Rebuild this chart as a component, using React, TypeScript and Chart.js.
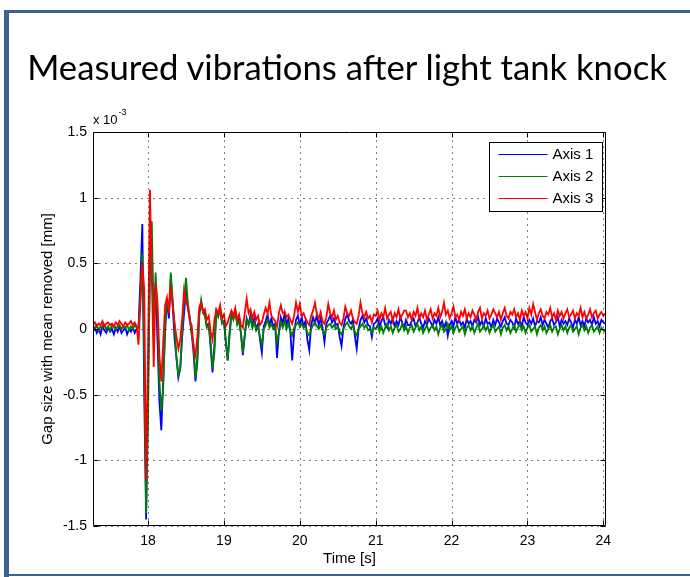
import React, { useEffect, useRef } from "react";
import { Chart, registerables } from "chart.js";

Chart.register(...registerables);

// ---- data ----
const TITLE = "Measured vibrations after light tank knock";
const T_START = 17.275; // s, time of first sample
const T_STEP = 0.025; // s, sampling interval

// Gap size with mean removed, in units of 1e-3 mm
const axis1 = [
  -0.02, 0.01, -0.03, 0.0, -0.04, 0.02, -0.01, -0.03, 0.01, -0.02, 0.0, -0.04, 0.01, -0.02, 0.02, -0.03, -0.01, 0.01, -0.04, 0.0, -0.02, 0.01, -0.03, 0.0,
  0.02, 0.38, 0.8, -0.5, -1.45, -0.4, 0.45, 0.6, 0.05, 0.35, -0.1, -0.55, -0.77, -0.4,
  -0.02, 0.22, 0.08, 0.38, 0.18, -0.08, -0.22, -0.37, -0.3,
  -0.06, 0.12, 0.3, 0.16, 0.09, -0.03, -0.18, -0.4, -0.22,
  0.12, 0.2, 0.14, 0.12, 0.02, 0.04, -0.14, -0.33, -0.12,
  0.14, 0.11, 0.16, 0.05, 0.06, -0.1, -0.24, -0.02,
  0.12, 0.08, 0.14, 0.05, 0.08, -0.04, -0.2, -0.05,
  0.08, 0.03, 0.11, 0.02, 0.08, 0.0, 0.04, -0.08, -0.18, 0.02,
  0.06, 0.11, 0.03, 0.08, 0.02, 0.04, -0.22, -0.02,
  0.09, 0.04, 0.12, 0.03, 0.08, -0.02, -0.24, -0.03,
  0.07, 0.1, 0.03, 0.09, 0.02, 0.06, -0.08, -0.16, 0.03,
  0.09, 0.04, 0.11, 0.03, 0.08, 0.01, -0.1, 0.04,
  0.07, 0.1, 0.05, 0.08, 0.03, 0.04, -0.06, -0.13, 0.01,
  0.08, 0.11, 0.06, 0.04, 0.07, -0.05, -0.15, 0.0,
  0.07, 0.1, 0.05, 0.08, 0.03, 0.02, -0.06, 0.04,
  0.05, 0.08, 0.02, 0.06, 0.09, 0.03, 0.01, 0.07, 0.04, 0.08,
  0.02, 0.06, 0.03, 0.09, 0.05, 0.01, 0.07, 0.03, 0.03, 0.06,
  0.08, 0.02, 0.05, 0.09, 0.04, 0.01, 0.06, 0.03, 0.08, 0.05,
  0.02, 0.07, 0.04, 0.09, 0.03, 0.06, 0.01, 0.05, -0.05, 0.03,
  0.06, 0.02, 0.09, 0.04, 0.07, 0.03, 0.05, 0.01, 0.08, 0.04,
  0.06, 0.02, 0.07, 0.05, 0.09, 0.03, 0.06, 0.02, 0.08, 0.04,
  0.05, 0.01, 0.07, 0.03, 0.08, 0.05, 0.02, 0.06, 0.09, 0.04,
  0.03, 0.07, 0.05, 0.01, 0.08, 0.04, 0.06, 0.02, 0.09, 0.05,
  0.03, 0.07, 0.04, 0.08, 0.02, 0.06, 0.05, 0.09, 0.03, 0.07,
  0.04, 0.01, 0.06, 0.08, 0.03, 0.05, 0.09, 0.02, 0.07, 0.04,
  0.06, 0.03, 0.08, 0.05, 0.01, 0.07, 0.04, 0.09, 0.03, 0.06,
  0.02, 0.08, 0.05, 0.07, 0.03, 0.09, 0.04, 0.06, 0.02, 0.07,
  0.05, 0.04,
];

const axis2 = [
  0.02, 0.0, 0.03, -0.01, 0.02, 0.01, 0.03, 0.0, 0.02, -0.01, 0.03, 0.01, 0.0, 0.02, 0.03, 0.0, 0.02, 0.01, 0.03, -0.01, 0.02, 0.0, 0.03, 0.01,
  0.01, 0.25, 0.58, -0.2, -1.4, -0.7, 0.5, 0.82, -0.05, 0.43, 0.1, -0.4, -0.62, -0.45,
  0.03, 0.2, 0.16, 0.43, 0.22, 0.02, -0.22, -0.35, -0.3,
  -0.02, 0.22, 0.39, 0.2, 0.08, -0.04, -0.12, -0.37, -0.26,
  0.1, 0.22, 0.12, 0.1, 0.01, 0.03, -0.1, -0.3, -0.18,
  0.12, 0.09, 0.15, 0.04, 0.06, -0.08, -0.24, -0.05,
  0.11, 0.07, 0.13, 0.03, 0.06, -0.03, -0.18, -0.04,
  0.07, 0.03, 0.08, 0.01, 0.05, -0.01, 0.02, -0.06, -0.12, 0.0,
  0.03, 0.07, 0.01, 0.04, 0.0, 0.02, -0.1, -0.03,
  0.05, 0.01, 0.06, 0.0, 0.04, -0.02, -0.05, 0.01,
  0.03, 0.05, 0.02, 0.04, 0.01, 0.02, -0.03, -0.05, 0.0,
  0.03, 0.05, 0.02, 0.0, 0.03, -0.01, -0.04, 0.01,
  0.03, 0.04, 0.01, 0.03, 0.0, 0.02, -0.02, -0.04, 0.0,
  0.03, 0.05, 0.02, 0.0, 0.03, -0.02, -0.05, 0.0,
  0.02, 0.04, 0.01, 0.03, -0.01, 0.0, -0.03, 0.01,
  0.0, 0.03, -0.02, 0.02, -0.03, 0.01, 0.04, -0.01, 0.02, -0.03,
  0.01, 0.03, -0.02, 0.0, 0.04, -0.01, 0.02, -0.03, 0.01, 0.03,
  -0.02, 0.01, 0.04, -0.01, 0.02, -0.03, 0.0, 0.03, -0.02, 0.01,
  0.03, -0.01, 0.02, -0.04, 0.01, 0.03, -0.02, 0.0, 0.04, -0.01,
  0.02, -0.03, 0.01, 0.03, -0.02, 0.0, 0.02, -0.04, 0.01, 0.03,
  -0.01, 0.02, -0.03, 0.01, 0.04, -0.02, 0.0, 0.03, -0.01, 0.02,
  -0.03, 0.01, 0.03, -0.02, 0.0, 0.02, -0.04, 0.01, 0.03, -0.01,
  0.02, -0.03, 0.0, 0.03, -0.02, 0.01, 0.04, -0.01, 0.02, -0.03,
  0.01, 0.03, -0.02, 0.0, 0.02, -0.04, 0.01, 0.03, -0.01, 0.02,
  -0.03, 0.0, 0.03, -0.02, 0.01, 0.02, -0.04, 0.0, 0.03, -0.01,
  0.02, -0.03, 0.01, 0.03, -0.02, 0.0, 0.02, -0.04, 0.01, 0.03,
  -0.01, 0.02, -0.03, 0.01, 0.03, -0.02, 0.0, 0.02, -0.03, 0.01,
  -0.01, -0.02,
];

const axis3 = [
  0.03, 0.05, 0.02, 0.04, 0.03, 0.06, 0.02, 0.04, 0.05, 0.03, 0.04, 0.02, 0.05, 0.03, 0.06, 0.04, 0.02, 0.05, 0.03, 0.04, 0.06, 0.03, 0.05, 0.02,
  -0.12, 0.2, 0.5, 0.3, -1.15, -0.2, 1.06, 0.4, -0.29, 0.35, 0.2, -0.2, -0.4, -0.1,
  0.18, 0.24, 0.12, 0.33, 0.18, 0.04, -0.06, -0.15, -0.08,
  0.08, 0.3, 0.22, 0.17, 0.06, 0.03, -0.14, -0.2, -0.06,
  0.17, 0.2, 0.13, 0.15, 0.07, 0.1, -0.02, -0.08, 0.07,
  0.15, 0.12, 0.18, 0.08, 0.11, 0.02, 0.05, 0.1,
  0.14, 0.1, 0.16, 0.07, 0.11, 0.03, 0.01, 0.12,
  0.23, 0.12, 0.15, 0.08, 0.13, 0.07, 0.1, 0.03, 0.05, 0.11,
  0.16, 0.12, 0.2, 0.1, 0.08, 0.06, 0.02, 0.12,
  0.18, 0.12, 0.13, 0.09, 0.11, 0.07, 0.04, 0.1,
  0.2, 0.13, 0.19, 0.1, 0.12, 0.08, 0.05, 0.03, 0.1,
  0.14, 0.2, 0.11, 0.08, 0.13, 0.06, 0.04, 0.09,
  0.19, 0.12, 0.09, 0.14, 0.07, 0.1, 0.05, 0.03, 0.08,
  0.17, 0.12, 0.1, 0.14, 0.08, 0.05, 0.04, 0.1,
  0.2, 0.12, 0.09, 0.13, 0.08, 0.1, 0.05, 0.11,
  0.1, 0.14, 0.07, 0.12, 0.09, 0.16, 0.08, 0.11, 0.13, 0.06,
  0.12, 0.09, 0.15, 0.08, 0.11, 0.14, 0.14, 0.09, 0.12, 0.07,
  0.13, 0.1, 0.16, 0.08, 0.12, 0.09, 0.14, 0.07, 0.11, 0.15,
  0.08, 0.12, 0.1, 0.16, 0.09, 0.13, 0.2, 0.11, 0.14, 0.08,
  0.12, 0.17, 0.09, 0.11, 0.07, 0.13, 0.1, 0.15, 0.08, 0.12,
  0.09, 0.14, 0.11, 0.07, 0.13, 0.16, 0.08, 0.12, 0.1, 0.14,
  0.08, 0.11, 0.15, 0.12, 0.09, 0.13, 0.07, 0.12, 0.16, 0.1,
  0.08, 0.13, 0.11, 0.15, 0.09, 0.12, 0.07, 0.14, 0.1, 0.13,
  0.08, 0.16, 0.11, 0.19, 0.13, 0.07, 0.12, 0.15, 0.1, 0.08,
  0.13, 0.11, 0.16, 0.09, 0.12, 0.07, 0.14, 0.1, 0.13, 0.08,
  0.12, 0.15, 0.09, 0.11, 0.14, 0.08, 0.12, 0.1, 0.16, 0.09,
  0.13, 0.08, 0.11, 0.15, 0.09, 0.12, 0.14, 0.08, 0.11, 0.13,
  0.1, 0.12,
];

const seriesLabels = ["Axis 1", "Axis 2", "Axis 3"];
const seriesColors = ["#0000ff", "#008000", "#ff0000"];
const xTicks = [18, 19, 20, 21, 22, 23, 24];
const yTicks = [-1.5, -1, -0.5, 0, 0.5, 1, 1.5];
const yTickLabels = ["-1.5", "-1", "-0.5", "0", "0.5", "1", "1.5"];
const X_MIN = 17.275;
const X_MAX = 24.035;
const Y_MIN = -1.5;
const Y_MAX = 1.5;
const X_TITLE = "Time [s]";
const Y_TITLE = "Gap size with mean removed [mm]";
const EXP_BASE = "x 10";
const EXP_POWER = "-3";

const FONT = '"Liberation Sans", Arial, sans-serif';

const matlabAxes = {
  id: "matlabAxes",
  afterDatasetsDraw(chart: any) {
    const { ctx, chartArea: a, scales } = chart;
    const xs = scales.x;
    const ys = scales.y;
    const L = Math.round(a.left) + 0.5;
    const R = Math.round(a.right) - 0.5;
    const T = Math.round(a.top) + 0.5;
    const B = Math.round(a.bottom) - 0.5;
    ctx.save();
    // dotted grid
    ctx.strokeStyle = "#000";
    ctx.lineWidth = 1;
    ctx.setLineDash([1, 5]);
    xTicks.forEach((v) => {
      const p = Math.round(xs.getPixelForValue(v)) + 0.5;
      ctx.beginPath();
      ctx.moveTo(p, B);
      ctx.lineTo(p, T);
      ctx.stroke();
    });
    yTicks.forEach((v) => {
      const p = Math.round(ys.getPixelForValue(v)) + 0.5;
      ctx.beginPath();
      ctx.moveTo(L, p);
      ctx.lineTo(R, p);
      ctx.stroke();
    });
    ctx.setLineDash([]);
    // box
    ctx.strokeStyle = "#000";
    ctx.beginPath();
    ctx.rect(L, T, R - L, B - T);
    ctx.stroke();
    // inward ticks
    const tl = 5;
    xTicks.forEach((v) => {
      const p = Math.round(xs.getPixelForValue(v)) + 0.5;
      ctx.beginPath();
      ctx.moveTo(p, B);
      ctx.lineTo(p, B - tl);
      ctx.moveTo(p, T);
      ctx.lineTo(p, T + tl);
      ctx.stroke();
    });
    yTicks.forEach((v) => {
      const p = Math.round(ys.getPixelForValue(v)) + 0.5;
      ctx.beginPath();
      ctx.moveTo(L, p);
      ctx.lineTo(L + tl, p);
      ctx.moveTo(R, p);
      ctx.lineTo(R - tl, p);
      ctx.stroke();
    });
    // exponent label
    ctx.fillStyle = "#000";
    ctx.textBaseline = "alphabetic";
    ctx.textAlign = "left";
    ctx.font = "13px " + FONT;
    ctx.fillText(EXP_BASE, a.left, a.top - 8);
    const w = ctx.measureText(EXP_BASE).width;
    ctx.font = "9px " + FONT;
    ctx.fillText(EXP_POWER, a.left + w + 1, a.top - 17);
    // legend
    const bx = Math.round(a.right) - 117 + 0.5;
    const by = Math.round(a.top) + 10 + 0.5;
    const bw = 113;
    const bh = 69;
    ctx.fillStyle = "#fff";
    ctx.fillRect(bx, by, bw, bh);
    ctx.strokeStyle = "#000";
    ctx.lineWidth = 1;
    ctx.strokeRect(bx, by, bw, bh);
    ctx.font = "15px " + FONT;
    ctx.textBaseline = "middle";
    seriesLabels.forEach((lab, i) => {
      const yy = by + 12 + i * 22;
      ctx.strokeStyle = seriesColors[i];
      ctx.lineWidth = 1.2;
      ctx.beginPath();
      ctx.moveTo(bx + 9, yy);
      ctx.lineTo(bx + 58, yy);
      ctx.stroke();
      ctx.fillStyle = "#000";
      ctx.fillText(lab, bx + 63, yy + 0.5);
    });
    ctx.restore();
  },
};

export default function App() {
  const canvasRef = useRef<HTMLCanvasElement>(null);

  useEffect(() => {
    const canvas = canvasRef.current;
    if (!canvas) return;
    const series = [axis1, axis2, axis3];
    const chart = new Chart(canvas, {
      type: "line",
      data: {
        datasets: series.map((vals, i) => ({
          label: seriesLabels[i],
          data: vals.map((v, k) => ({ x: T_START + k * T_STEP, y: v })),
          borderColor: seriesColors[i],
          backgroundColor: seriesColors[i],
          borderWidth: 1.8,
          pointRadius: 0,
          tension: 0,
          fill: false,
          order: 3 - i,
        })),
      },
      options: {
        responsive: false,
        animation: false,
        events: [],
        layout: { padding: { left: 0, top: 132, right: 84, bottom: 0 } },
        plugins: {
          legend: { display: false },
          title: { display: false },
          tooltip: { enabled: false },
        },
        scales: {
          x: {
            type: "linear",
            min: X_MIN,
            max: X_MAX,
            bounds: "data",
            grid: { display: false, drawTicks: false },
            border: { display: false },
            afterBuildTicks: (scale: any) => {
              scale.ticks = xTicks.map((v) => ({ value: v }));
            },
            afterFit: (scale: any) => {
              scale.height = 51;
            },
            ticks: {
              color: "#000",
              font: { family: FONT, size: 14 },
              padding: 7,
              maxRotation: 0,
              autoSkip: false,
              callback: (v: any) => String(v),
            },
            title: {
              display: true,
              text: X_TITLE,
              color: "#000",
              font: { family: FONT, size: 15 },
              padding: { top: 0, bottom: 9 },
            },
          },
          y: {
            type: "linear",
            min: Y_MIN,
            max: Y_MAX,
            bounds: "data",
            grid: { display: false, drawTicks: false },
            border: { display: false },
            afterBuildTicks: (scale: any) => {
              scale.ticks = yTicks.map((v) => ({ value: v }));
            },
            afterFit: (scale: any) => {
              scale.width = 93;
            },
            ticks: {
              color: "#000",
              font: { family: FONT, size: 14 },
              padding: 6,
              autoSkip: false,
              callback: (v: any) => {
                const idx = yTicks.indexOf(Number(v));
                return idx >= 0 ? yTickLabels[idx] : "";
              },
            },
            title: {
              display: true,
              text: Y_TITLE,
              color: "#000",
              font: { family: FONT, size: 15 },
              padding: { top: 39, bottom: 0 },
            },
          },
        },
      },
      plugins: [matlabAxes],
    });
    return () => chart.destroy();
  }, []);

  const frame = "#3d6191";
  return (
    <div style={{ position: "absolute", left: 0, top: 0, width: 690, height: 577, background: "#fff", overflow: "hidden" }}>
      <canvas ref={canvasRef} width={690} height={577} style={{ position: "absolute", left: 0, top: 0, width: 690, height: 577 }} />
      <div style={{ position: "absolute", left: 4, top: 10, width: 686, height: 3, background: frame }} />
      <div style={{ position: "absolute", left: 4, top: 10, width: 5, height: 567, background: frame }} />
      <div style={{ position: "absolute", left: 4, top: 574, width: 686, height: 2, background: frame }} />
      <div
        style={{
          position: "absolute",
          left: 17,
          top: 46,
          width: 660,
          textAlign: "center",
          whiteSpace: "nowrap",
          fontFamily: "Lato, sans-serif",
          fontSize: 34.7,
          lineHeight: 1.2,
          color: "#000",
        }}
      >
        {TITLE}
      </div>
    </div>
  );
}
